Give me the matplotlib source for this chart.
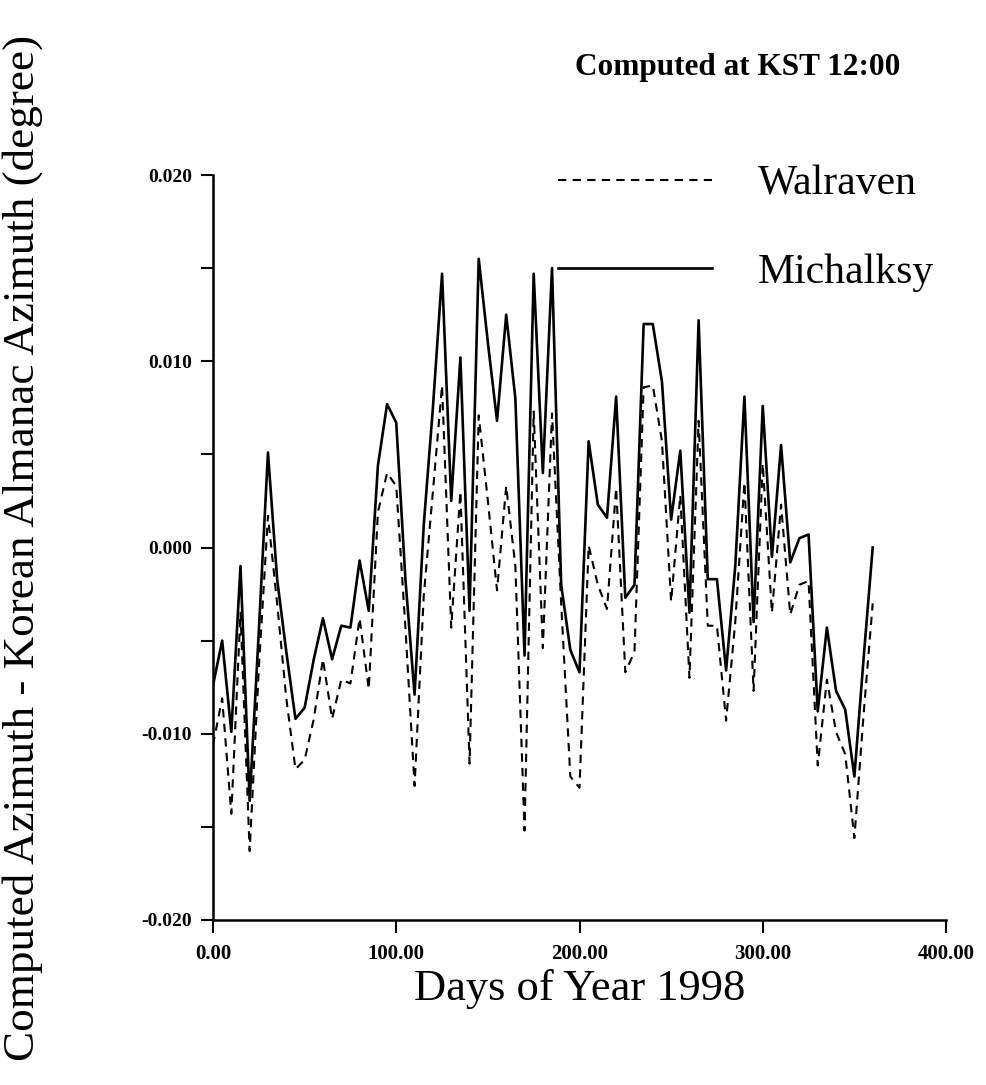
import matplotlib.pyplot as plt
import numpy as np
from matplotlib.ticker import MultipleLocator, FormatStrFormatter

plt.rcParams['font.family'] = ['Liberation Serif', 'DejaVu Serif']

# days of year 1998 (every 5 days)
days = list(range(0, 365, 5))

# azimuth differences (degree)
michalksy = [-0.0074, -0.0050, -0.0099, -0.0010, -0.0136, -0.0045, 0.0051, -0.0017,
             -0.0056, -0.0092, -0.0086, -0.0060, -0.0038, -0.0060, -0.0042, -0.0043,
             -0.0007, -0.0034, 0.0044, 0.0077, 0.0067, -0.0017, -0.0079, 0.0012,
             0.0075, 0.0147, 0.0025, 0.0102, -0.0034, 0.0155, 0.0110, 0.0068,
             0.0125, 0.0080, -0.0058, 0.0147, 0.0040, 0.0150, -0.0020, -0.0055,
             -0.0067, 0.0057, 0.0023, 0.0016, 0.0081, -0.0027, -0.0020, 0.0120,
             0.0120, 0.0089, 0.0015, 0.0052, -0.0035, 0.0122, -0.0017, -0.0017,
             -0.0066, -0.0010, 0.0081, -0.0040, 0.0076, -0.0005, 0.0055, -0.0008,
             0.0005, 0.0007, -0.0088, -0.0043, -0.0077, -0.0087, -0.0123, -0.0060,
             0.0000]
walraven = [-0.0106, -0.0081, -0.0143, -0.0035, -0.0163, -0.0065, 0.0017, -0.0030,
            -0.0081, -0.0119, -0.0114, -0.0092, -0.0060, -0.0092, -0.0071, -0.0073,
            -0.0038, -0.0076, 0.0019, 0.0040, 0.0033, -0.0043, -0.0128, -0.0026,
            0.0030, 0.0087, -0.0043, 0.0030, -0.0116, 0.0071, 0.0025, -0.0023,
            0.0033, -0.0010, -0.0152, 0.0073, -0.0054, 0.0072, -0.0030, -0.0123,
            -0.0129, 0.0001, -0.0020, -0.0033, 0.0032, -0.0067, -0.0056, 0.0086,
            0.0087, 0.0057, -0.0029, 0.0028, -0.0070, 0.0068, -0.0042, -0.0042,
            -0.0093, -0.0040, 0.0035, -0.0077, 0.0045, -0.0035, 0.0023, -0.0036,
            -0.0020, -0.0018, -0.0117, -0.0071, -0.0099, -0.0111, -0.0156, -0.0090,
            -0.0030]

fig = plt.figure(figsize=(9.86, 10.85), dpi=100)
ax = fig.add_axes([213/986, 1-920/1085, (946-213)/986, (920-175)/1085])

ax.plot(days, walraven, color='black', lw=1.5, ls=(0, (4, 3)), label='Walraven')
ax.plot(days, michalksy, color='black', lw=1.9, ls='-', label='Michalksy')

ax.set_xlim(0, 400)
ax.set_ylim(-0.02, 0.02)
ax.spines['top'].set_visible(False)
ax.spines['right'].set_visible(False)
for s in ['left', 'bottom']:
    ax.spines[s].set_linewidth(1.8)

ax.xaxis.set_major_locator(MultipleLocator(100))
ax.xaxis.set_major_formatter(FormatStrFormatter('%.2f'))
ax.yaxis.set_major_locator(MultipleLocator(0.01))
ax.yaxis.set_minor_locator(MultipleLocator(0.005))
ax.yaxis.set_major_formatter(FormatStrFormatter('%.3f'))
ax.tick_params(which='both', direction='out', length=9, width=1.5)
ax.tick_params(axis='x', labelsize=15, pad=8)
ax.tick_params(axis='y', labelsize=14, pad=6)
for lab in ax.get_xticklabels() + ax.get_yticklabels():
    lab.set_fontweight('bold')

ax.set_xlabel('Days of Year 1998', fontsize=32, labelpad=4)
ax.set_ylabel('Computed Azimuth - Korean Almanac Azimuth (degree)', fontsize=32.5)
ax.yaxis.set_label_coords(-0.232, 0.5)

fig.text(900/986, 1-68/1085, 'Computed at KST 12:00', fontsize=22.5, fontweight='bold',
         ha='right', va='center')

leg = ax.legend(loc='upper left', bbox_to_anchor=(558/986, 1-165/1085),
                bbox_transform=fig.transFigure, frameon=False, fontsize=30,
                handlelength=3.7, handletextpad=1.1, labelspacing=1.2,
                borderpad=0, borderaxespad=0)

fig.savefig('out.png', dpi=100)
